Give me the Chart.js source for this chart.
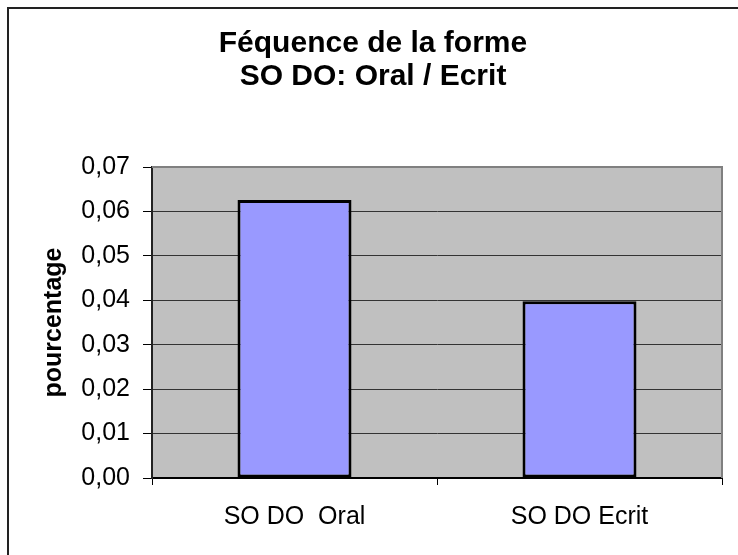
<!DOCTYPE html>
<html>
<head>
<meta charset="utf-8">
<script src="https://cdn.jsdelivr.net/npm/chart.js@4/dist/chart.umd.min.js"></script>
<style>
  html, body { margin: 0; padding: 0; background: #fff; overflow: hidden; }
  #wrap { width: 738px; height: 555px; }
</style>
</head>
<body>
<div id="wrap"><canvas id="freqChart" width="738" height="555"></canvas></div>
<script>
// Catégories et valeurs
const categories = ['SO DO  Oral', 'SO DO Ecrit'];
const pourcentages = [0.0626, 0.0398];
const titleLines = ['Féquence de la forme', 'SO DO: Oral / Ecrit'];
const yTitle = 'pourcentage';
const yMin = 0, yMax = 0.07, yStep = 0.01;

const FONT = '"Liberation Sans", Arial, sans-serif';

// Fond gris de la zone de tracé + cadre extérieur (bords gauche et haut)
const frame = {
    id: 'frame',
    beforeDraw(chart) {
        const { ctx, chartArea: a } = chart;
        ctx.save();
        ctx.fillStyle = '#fff';
        ctx.fillRect(0, 0, chart.width, chart.height);
        ctx.strokeStyle = '#222';
        ctx.lineWidth = 2;
        ctx.beginPath();
        ctx.moveTo(8, chart.height);
        ctx.lineTo(8, 8);
        ctx.lineTo(chart.width, 8);
        ctx.stroke();
        ctx.fillStyle = '#c0c0c0';
        ctx.fillRect(a.left, a.top, a.right - a.left, a.bottom - a.top);
        ctx.restore();
    },
    afterDraw(chart) {
        const { ctx, chartArea: a } = chart;
        ctx.save();
        ctx.strokeStyle = '#808080';
        ctx.lineWidth = 2;
        ctx.beginPath();
        ctx.moveTo(a.left, a.top);
        ctx.lineTo(a.right, a.top);
        ctx.lineTo(a.right, a.bottom);
        ctx.stroke();
        ctx.restore();
    }
};

const ctx = document.getElementById('freqChart').getContext('2d');
const freqChart = new Chart(ctx, {
    type: 'bar',
    data: {
        labels: categories,
        datasets: [{
            data: pourcentages,
            backgroundColor: '#9999ff',
            borderColor: '#000',
            borderWidth: 3,
            borderSkipped: false,
            barPercentage: 0.4,
            categoryPercentage: 1,
        }],
    },
    options: {
        responsive: false,
        animation: false,
        layout: { padding: { left: 24, right: 16, top: 0, bottom: 0 } },
        plugins: {
            legend: { display: false },
            tooltip: { enabled: false },
            title: {
                display: true,
                text: titleLines,
                color: '#000',
                font: { family: FONT, size: 30, weight: 'bold', lineHeight: 33 / 30 },
                padding: { top: 27, bottom: 74 },
            },
        },
        scales: {
            x: {
                offset: true,
                grid: { offset: true, drawOnChartArea: false, tickLength: 7, tickColor: '#000', lineWidth: 1 },
                border: { color: '#000', width: 2 },
                ticks: { color: '#000', font: { family: FONT, size: 25 }, padding: 17 },
                afterFit(s) { s.height = 77; },
            },
            y: {
                min: yMin,
                max: yMax,
                grid: { color: '#333', lineWidth: 1, tickLength: 9, tickColor: '#000' },
                border: { color: '#222', width: 2 },
                ticks: {
                    stepSize: yStep,
                    color: '#000',
                    padding: 13,
                    font: { family: FONT, size: 25 },
                    callback: v => v.toFixed(2).replace('.', ','),
                },
                title: {
                    display: true,
                    text: yTitle,
                    color: '#000',
                    font: { family: FONT, size: 25, weight: 'bold', lineHeight: 1.2 },
                    padding: { top: 15, bottom: 0 },
                },
                afterFit(s) { s.width = 128; },
            },
        },
    },
    plugins: [frame],
});
</script>
</body>
</html>
